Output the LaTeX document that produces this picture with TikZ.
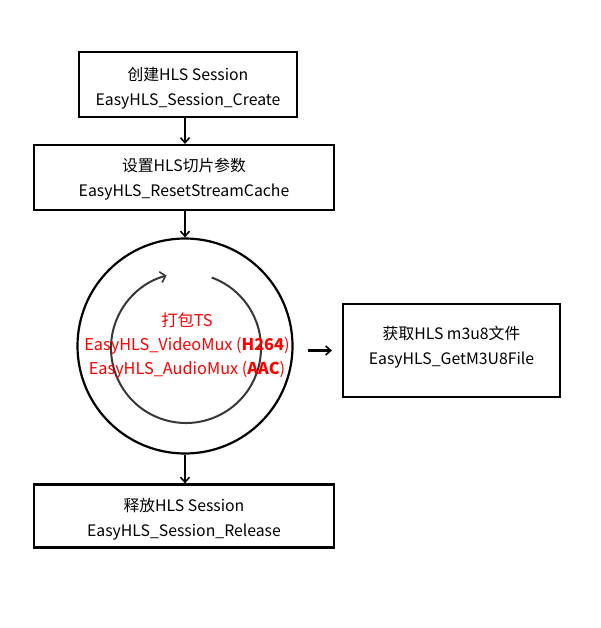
\documentclass[tikz,border=0pt]{standalone}
\usepackage{fontspec}
\setmainfont{Noto Sans CJK SC}
\usetikzlibrary{arrows.meta}
\definecolor{redtxt}{RGB}{255,0,0}
\definecolor{arcgray}{RGB}{55,55,55}
\newcommand{\topgap}{\rule{0pt}{20pt}}
\tikzset{
  x=1pt,y=1pt,
  stepbox/.style={draw=black,line width=2.2pt,inner sep=0pt,align=center,font=\fontsize{15.8}{25}\selectfont},
  flow/.style={line width=2.2pt,-{Straight Barb[length=5pt,width=9pt,line width=1.6pt]}},
}
\begin{document}
\begin{tikzpicture}
\useasboundingbox (0,0) rectangle (600,-628);
\node[stepbox,minimum width=218pt,minimum height=65pt] (b1) at (188,-84.5) {\topgap 创建HLS Session\\EasyHLS\_Session\_Create};
\node[stepbox,minimum width=300pt,minimum height=65pt] (b2) at (184,-177.5) {\rule{0pt}{17pt}设置HLS切片参数\\EasyHLS\_ResetStreamCache};
\node[draw=black,line width=2.2pt,circle,minimum size=215pt,inner sep=0pt] (c) at (185,-346) {};
\node[stepbox,minimum width=300pt,minimum height=63pt] (b3) at (184,-516) {\topgap 释放HLS Session\\EasyHLS\_Session\_Release};
\node[stepbox,minimum width=217pt,minimum height=93pt] (b4) at (451.5,-350.5) {获取HLS m3u8文件\\EasyHLS\_GetM3U8File\rule[-10pt]{0pt}{10pt}};
\coordinate (ic) at (186,-348);
\draw[arcgray,line width=2pt,-{Straight Barb[length=5pt,width=11pt,line width=1.6pt]}] ([shift={(70:75)}]ic) arc[start angle=70,end angle=-255,radius=75];
\node[align=center,text=redtxt,font=\fontsize{16.3}{24}\selectfont] (t) at (187,-346) {打包TS\\EasyHLS\_VideoMux (\textbf{H264})\\EasyHLS\_AudioMux (\textbf{AAC})};
\draw[flow] (b1.south -| 185,0) -- (b2.north -| 185,0);
\draw[flow] (b2.south -| 185,0) -- (c.north);
\draw[flow] (c.south) -- (b3.north -| 185,0);
\draw[flow,shorten <=14pt,shorten >=10pt] (c.east |- b4.west) -- (b4.west);
\end{tikzpicture}
\end{document}
